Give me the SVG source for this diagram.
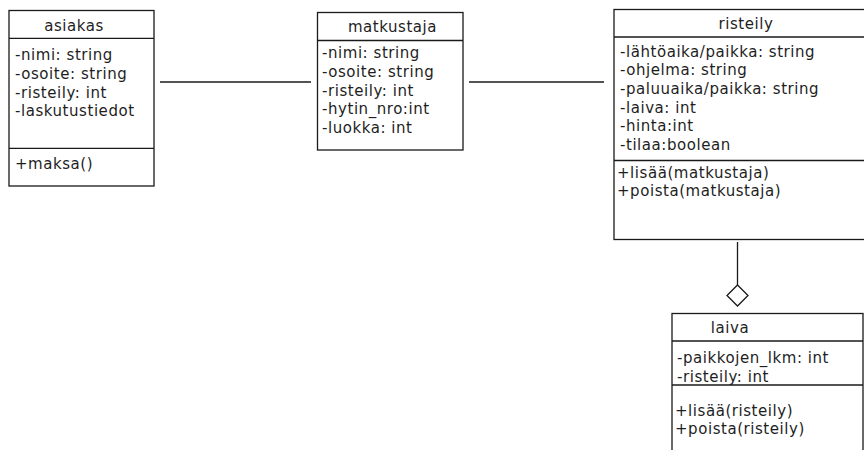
<svg xmlns="http://www.w3.org/2000/svg" width="864" height="450" viewBox="0 0 864 450">
  <style>
    .box { fill: #ffffff; stroke: #1a1a1a; stroke-width: 1.3; }
    .sep { stroke: #1a1a1a; stroke-width: 1.3; }
    .conn { stroke: #1a1a1a; stroke-width: 1.3; fill: none; }
    text { font-family: "DejaVu Sans", "Liberation Sans", sans-serif; font-size: 15px; letter-spacing: 0.55px; fill: #1e1e1e; }
    .title { text-anchor: middle; }
  </style>
  <rect width="864" height="450" fill="#ffffff"/>

  <!-- associations and aggregation -->
  <g id="connectors">
    <line class="conn" x1="160" y1="82" x2="311" y2="82"/>
    <line class="conn" x1="469" y1="82" x2="604" y2="82"/>
    <line class="conn" x1="737.5" y1="242" x2="737.5" y2="285"/>
    <polygon class="conn" points="737.5,285 748,295.5 737.5,306 727,295.5" fill="#ffffff"/>
  </g>

  <g id="asiakas">
    <rect class="box" x="9" y="10.5" width="145" height="175.5"/>
    <line class="sep" x1="9" y1="38.3" x2="154" y2="38.3"/>
    <line class="sep" x1="9" y1="148.3" x2="154" y2="148.3"/>
    <text class="title" x="74" y="31">asiakas</text>
    <text x="15" y="60">-nimi: string</text>
    <text x="15" y="78.8">-osoite: string</text>
    <text x="15" y="97.6">-risteily: int</text>
    <text x="15" y="116.4">-laskutustiedot</text>
    <text x="15" y="169">+maksa()</text>
  </g>

  <g id="matkustaja">
    <rect class="box" x="317.5" y="12.5" width="145.5" height="137.5"/>
    <line class="sep" x1="317.5" y1="40.5" x2="463" y2="40.5"/>
    <text class="title" x="392.5" y="32">matkustaja</text>
    <text x="322" y="58.3">-nimi: string</text>
    <text x="322" y="77">-osoite: string</text>
    <text x="322" y="95.7">-risteily: int</text>
    <text x="322" y="114.4">-hytin_nro:int</text>
    <text x="322" y="133.1">-luokka: int</text>
  </g>

  <g id="risteily">
    <rect class="box" x="614" y="9.5" width="262" height="230"/>
    <line class="sep" x1="614" y1="37" x2="876" y2="37"/>
    <line class="sep" x1="614" y1="160.5" x2="876" y2="160.5"/>
    <text class="title" x="746" y="29">risteily</text>
    <text x="620" y="56.6">-lähtöaika/paikka: string</text>
    <text x="620" y="75.3">-ohjelma: string</text>
    <text x="620" y="94">-paluuaika/paikka: string</text>
    <text x="620" y="112.7">-laiva: int</text>
    <text x="620" y="131.4">-hinta:int</text>
    <text x="620" y="150.1">-tilaa:boolean</text>
    <text x="617" y="177.5">+lisää(matkustaja)</text>
    <text x="617" y="196.2">+poista(matkustaja)</text>
  </g>

  <g id="laiva">
    <rect class="box" x="672" y="313.5" width="191" height="150"/>
    <line class="sep" x1="672" y1="341" x2="863" y2="341"/>
    <line class="sep" x1="672" y1="385" x2="863" y2="385"/>
    <text class="title" x="730" y="333">laiva</text>
    <text x="677" y="363">-paikkojen_lkm: int</text>
    <text x="677" y="381.5">-risteily: int</text>
    <text x="675" y="415.5">+lisää(risteily)</text>
    <text x="675" y="434">+poista(risteily)</text>
  </g>
</svg>
